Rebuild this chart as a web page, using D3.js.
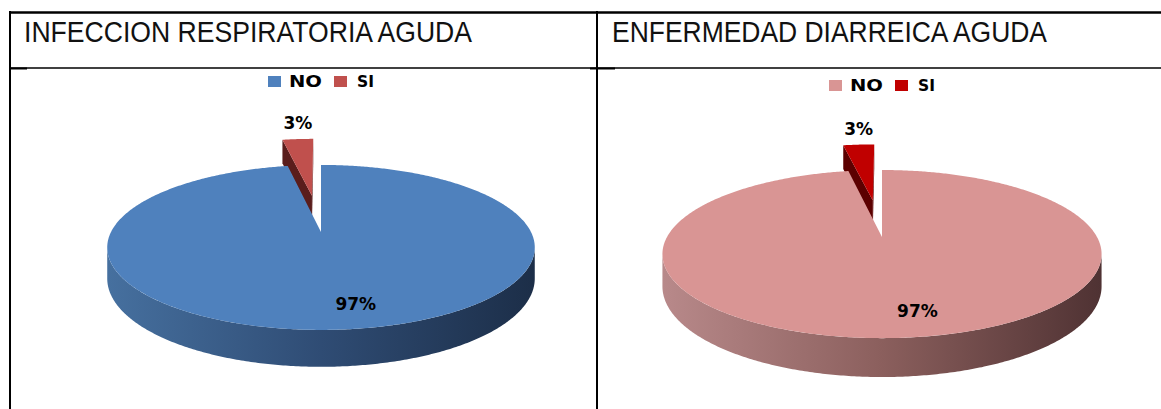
<!DOCTYPE html>
<html>
<head>
<meta charset="utf-8">
<script src="https://cdn.jsdelivr.net/npm/d3@7"></script>
<style>
  html, body { margin: 0; padding: 0; background: #fff; }
  svg { display: block; }
</style>
</head>
<body>
<div id="chart"></div>
<script>
// ---- data ----
const categories = ["NO", "SI"];
const iraValues = [97, 3];
const edaValues = [97, 3];
const chartTitles = ["INFECCION RESPIRATORIA AGUDA", "ENFERMEDAD DIARREICA AGUDA"];
const pctLabels = ["97%", "3%"];

// slice colours per chart
const iraColors = ["#4f81bd", "#c0504d"];
const edaColors = ["#d99594", "#c00000"];

const W = 1161, H = 409;

const svg = d3.select("#chart").append("svg")
    .attr("width", W)
    .attr("height", H);

const defs = svg.append("defs");

// table lines
const tbl = svg.append("g").attr("stroke", "#000");
tbl.append("line").attr("x1", 9).attr("x2", W).attr("y1", 12.5).attr("y2", 12.5).attr("stroke-width", 2.5);
tbl.append("line").attr("x1", 10).attr("x2", W).attr("y1", 68).attr("y2", 68).attr("stroke-width", 1.5);
tbl.append("line").attr("x1", 10).attr("x2", 10).attr("y1", 11).attr("y2", H).attr("stroke-width", 2);
tbl.append("line").attr("x1", 597).attr("x2", 597).attr("y1", 11).attr("y2", H).attr("stroke-width", 2);
tbl.append("line").attr("x1", 10).attr("x2", 27).attr("y1", 68.5).attr("y2", 68.5).attr("stroke-width", 2);
tbl.append("line").attr("x1", 590).attr("x2", 615).attr("y1", 68.5).attr("y2", 68.5).attr("stroke-width", 2);

// layout of each panel
const panels = [
    { title: chartTitles[0], values: iraValues, colors: iraColors, tx: 24, tlen: 448,
      cx: 321, cy: 232, rx: 210, ry: 79.6, p: 0.187, h: 30, explode: 0.5,
      legY: 76, side: ["#46709f", "#2f4c74", "#1c2e48"], wall: "#5a1d1c", id: "ira" },
    { title: chartTitles[1], values: edaValues, colors: edaColors, tx: 612, tlen: 435,
      cx: 882, cy: 237, rx: 215, ry: 80.6, p: 0.203, h: 31, explode: 0.5,
      legY: 80, side: ["#b8898a", "#8b5f5d", "#4f3233"], wall: "#5c0000", id: "eda" }
];

const pie = d3.pie().sort(null).value(d => d);
const line = d3.line();

panels.forEach(pn => {
    const g = svg.append("g");

    // title
    g.append("text")
        .attr("x", pn.tx).attr("y", 42)
        .attr("font-family", "'Liberation Sans Narrow', 'Arial Narrow', 'Liberation Sans', sans-serif")
        .attr("font-size", 30)
        .attr("textLength", pn.tlen)
        .attr("lengthAdjust", "spacingAndGlyphs")
        .attr("fill", "#111")
        .text(pn.title);

    // legend, centred on the pie
    const lx = pn.cx - 53;
    const legOff = [[0, 21, 33], [66, 89, 17]];
    categories.forEach((c, i) => {
        g.append("rect")
            .attr("x", lx + legOff[i][0]).attr("y", pn.legY)
            .attr("width", 13).attr("height", 11)
            .attr("fill", pn.colors[i]);
        g.append("text")
            .attr("x", lx + legOff[i][1]).attr("y", pn.legY + 11)
            .attr("font-family", "'DejaVu Sans', sans-serif")
            .attr("font-weight", "bold")
            .attr("font-size", 15)
            .attr("textLength", legOff[i][2])
            .attr("lengthAdjust", "spacingAndGlyphs")
            .attr("fill", "#000")
            .text(c);
    });

    // perspective projection of a point on the pie disc
    const proj = (u, v, z) => {
        const s = 1 / (1 + pn.p * v);
        return [pn.cx + pn.rx * u * s, pn.cy - pn.ry * v * s + z * s];
    };

    // side gradient
    const gid = "side-" + pn.id;
    const grad = defs.append("linearGradient").attr("id", gid)
        .attr("gradientUnits", "userSpaceOnUse")
        .attr("x1", pn.cx - pn.rx * 1.02).attr("x2", pn.cx + pn.rx * 1.02)
        .attr("y1", 0).attr("y2", 0);
    grad.append("stop").attr("offset", 0).attr("stop-color", pn.side[0]);
    grad.append("stop").attr("offset", 0.5).attr("stop-color", pn.side[1]);
    grad.append("stop").attr("offset", 1).attr("stop-color", pn.side[2]);

    const arcs = pie(pn.values).map((a, i) => {
        const mid = (a.startAngle + a.endAngle) / 2;
        const e = i === 1 ? pn.explode : 0;
        return Object.assign(a, { i, mid, ou: e * Math.sin(mid), ov: e * Math.cos(mid) });
    });

    // draw back slices first
    arcs.slice().sort((a, b) => Math.cos(b.mid) + b.ov - (Math.cos(a.mid) + a.ov)).forEach(a => {
        const rim = (t, z) => proj(a.ou + Math.sin(t), a.ov + Math.cos(t), z);
        const apex = z => proj(a.ou, a.ov, z);
        const sg = g.append("g");

        // radial walls (back-face culled)
        [[a.startAngle, 1], [a.endAngle, -1]].forEach(([t, sgn]) => {
            const pts = [apex(0), rim(t, 0), rim(t, pn.h), apex(pn.h)];
            if (sgn * d3.polygonArea(pts) > 0) {
                sg.append("path").attr("d", line(pts) + "Z").attr("fill", pn.wall);
            }
        });

        // outer side wall (front part only)
        const t1 = Math.max(a.startAngle, Math.acos(-pn.p));
        const t2 = Math.min(a.endAngle, 2 * Math.PI - Math.acos(-pn.p));
        if (t2 > t1) {
            const ts = d3.range(t1, t2, 0.01).concat([t2]);
            const pts = ts.map(t => rim(t, 0)).concat(ts.slice().reverse().map(t => rim(t, pn.h)));
            sg.append("path").attr("d", line(pts) + "Z").attr("fill", `url(#${gid})`);
        }

        // top face
        const ts = d3.range(a.startAngle, a.endAngle, 0.01).concat([a.endAngle]);
        const top = [apex(0)].concat(ts.map(t => rim(t, 0)));
        sg.append("path").attr("d", line(top) + "Z").attr("fill", pn.colors[a.i]);
    });

    // percentage labels
    arcs.forEach(a => {
        let pos;
        if (a.i === 0) {
            const r = 0.77;
            pos = proj(a.ou + r * Math.sin(a.mid), a.ov + r * Math.cos(a.mid), 0);
            pos = [pos[0] + 17, pos[1] + 7];
        } else {
            pos = proj(a.ou + Math.sin(a.mid), a.ov + Math.cos(a.mid), 0);
            pos = [pos[0], pos[1] - 10];
        }
        g.append("text")
            .attr("x", pos[0]).attr("y", pos[1])
            .attr("text-anchor", "middle")
            .attr("font-family", "'DejaVu Sans', sans-serif")
            .attr("font-weight", "bold")
            .attr("font-size", 17)
            .attr("fill", "#000")
            .text(pctLabels[a.i]);
    });
});
</script>
</body>
</html>
